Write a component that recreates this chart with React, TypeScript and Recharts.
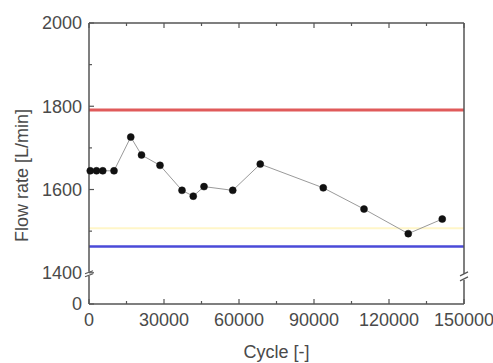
import React from 'react';
import { ComposedChart, Line, XAxis, YAxis, ReferenceLine, ReferenceDot } from 'recharts';

const cycles = [500, 3000, 5500, 10000, 16700, 21000, 28400, 37200, 41700, 46000, 57500, 68500, 93700, 110000, 127700, 141300];
const flowRates = [1645, 1645, 1645, 1645, 1726, 1683, 1658, 1598, 1584, 1607, 1598, 1661, 1604, 1553, 1494, 1529];
const upperLimit = 1791;
const lowerLimit = 1463;
const midLine = 1507;
const xTicks = [0, 15000, 30000, 45000, 60000, 75000, 90000, 105000, 120000, 135000, 150000];
const xLabelTicks = [0, 30000, 60000, 90000, 120000, 150000];
// 0 is drawn below an axis break; BREAK_ZERO is the plotted position of 0
const BREAK_ZERO = 1325;
const yTicks = [BREAK_ZERO, 1400, 1500, 1600, 1700, 1800, 1900, 2000];
const yLabelTicks = [BREAK_ZERO, 1400, 1600, 1800, 2000];

const data = cycles.map((c, i) => ({ cycle: c, flow: flowRates[i] }));

const AXIS = '#555';
const TEXT = '#4a4a4a';
const FONT = 'Liberation Sans, Arial, sans-serif';
const FS = 18;

const BottomTick = (p: any) => {
  const { x, y, payload } = p;
  const major = xLabelTicks.includes(payload.value);
  return (
    <g>
      <line x1={x} x2={x} y1={y} y2={y - (major ? 5 : 3)} stroke={AXIS} strokeWidth={1.2} />
      {major && (
        <text x={x} y={y + 8} dy="0.75em" textAnchor="middle" fill={TEXT} fontSize={FS} fontFamily={FONT}>
          {payload.value}
        </text>
      )}
    </g>
  );
};

const TopTick = (p: any) => {
  const { x, y, payload } = p;
  const major = xLabelTicks.includes(payload.value);
  return <line x1={x} x2={x} y1={y} y2={y + (major ? 5 : 3)} stroke={AXIS} strokeWidth={1.2} />;
};

const LeftTick = (p: any) => {
  const { x, y, payload } = p;
  const major = yLabelTicks.includes(payload.value);
  const label = payload.value === BREAK_ZERO ? '0' : String(payload.value);
  return (
    <g>
      <line x1={x} x2={x + (major ? 5 : 3)} y1={y} y2={y} stroke={AXIS} strokeWidth={1.2} />
      {major && (
        <text x={x - 7} y={y} dy="0.36em" textAnchor="end" fill={TEXT} fontSize={FS} fontFamily={FONT}>
          {label}
        </text>
      )}
    </g>
  );
};

const RightTick = (p: any) => {
  const { x, y, payload } = p;
  const major = yLabelTicks.includes(payload.value);
  return <line x1={x} x2={x - (major ? 5 : 3)} y1={y} y2={y} stroke={AXIS} strokeWidth={1.2} />;
};

const LeftBreak = (p: any) => {
  const { cx, cy } = p;
  return (
    <g>
      <rect x={cx - 4} y={cy - 1} width={8} height={4} fill="#fff" />
      <line x1={cx - 4} y1={cy + 1} x2={cx + 4} y2={cy - 2} stroke={AXIS} strokeWidth={1.2} />
      <line x1={cx - 4} y1={cy + 4} x2={cx + 4} y2={cy + 1} stroke={AXIS} strokeWidth={1.2} />
    </g>
  );
};

const RightBreak = (p: any) => {
  const { cx, cy } = p;
  return (
    <g>
      <rect x={cx - 4} y={cy - 1} width={8} height={6} fill="#fff" />
      <line x1={cx - 4} y1={cy + 1} x2={cx + 4} y2={cy - 3} stroke={AXIS} strokeWidth={1.2} />
      <line x1={cx - 4} y1={cy + 6} x2={cx + 4} y2={cy + 2} stroke={AXIS} strokeWidth={1.2} />
    </g>
  );
};

export default function App() {
  return (
    <div style={{ position: 'absolute', left: 0, top: 0, width: 493, height: 363, background: '#fff' }}>
      <ComposedChart width={493} height={363} data={data} margin={{ top: 22, right: 28, left: 0, bottom: 0 }}>
        <XAxis
          xAxisId="b"
          type="number"
          dataKey="cycle"
          domain={[0, 150000]}
          ticks={xTicks}
          interval={0}
          height={59}
          tickSize={0}
          tickMargin={0}
          tickLine={false}
          tick={<BottomTick />}
          axisLine={{ stroke: AXIS, strokeWidth: 1.5 }}
          label={{ value: 'Cycle [-]', position: 'insideBottom', offset: 5, fill: TEXT, fontSize: FS, fontFamily: FONT }}
        />
        <XAxis
          xAxisId="t"
          orientation="top"
          type="number"
          dataKey="cycle"
          domain={[0, 150000]}
          ticks={xTicks}
          interval={0}
          height={1}
          tickSize={0}
          tickMargin={0}
          tickLine={false}
          tick={<TopTick />}
          axisLine={{ stroke: AXIS, strokeWidth: 1.5 }}
        />
        <YAxis
          yAxisId="l"
          type="number"
          domain={[BREAK_ZERO, 2000]}
          ticks={yTicks}
          interval={0}
          width={89}
          tickSize={0}
          tickMargin={0}
          tickLine={false}
          tick={<LeftTick />}
          axisLine={{ stroke: AXIS, strokeWidth: 1.5 }}
          label={{ value: 'Flow rate [L/min]', angle: -90, position: 'insideLeft', offset: 22, dy: 12, fill: TEXT, fontSize: FS, fontFamily: FONT, style: { textAnchor: 'middle' } }}
        />
        <YAxis
          yAxisId="r"
          orientation="right"
          type="number"
          domain={[BREAK_ZERO, 2000]}
          ticks={yTicks}
          interval={0}
          width={1}
          tickSize={0}
          tickMargin={0}
          tickLine={false}
          tick={<RightTick />}
          axisLine={{ stroke: AXIS, strokeWidth: 1.5 }}
        />
        <ReferenceLine xAxisId="b" yAxisId="l" y={midLine} stroke="#fff6c8" strokeWidth={2} />
        <ReferenceLine xAxisId="b" yAxisId="l" y={upperLimit} stroke="#e05a5a" strokeWidth={3} />
        <ReferenceLine xAxisId="b" yAxisId="l" y={lowerLimit} stroke="#4a4ad8" strokeWidth={2.5} />
        <Line
          xAxisId="b"
          yAxisId="l"
          dataKey="flow"
          type="linear"
          stroke="#9a9a9a"
          strokeWidth={1}
          dot={{ r: 3.5, fill: '#111', stroke: '#111', strokeWidth: 0.5 }}
          isAnimationActive={false}
        />
        <ReferenceDot xAxisId="b" yAxisId="l" x={0} y={1400} r={0} shape={<LeftBreak />} ifOverflow="visible" />
        <ReferenceDot xAxisId="b" yAxisId="l" x={150000} y={1395} r={0} shape={<RightBreak />} ifOverflow="visible" />
      </ComposedChart>
    </div>
  );
}
